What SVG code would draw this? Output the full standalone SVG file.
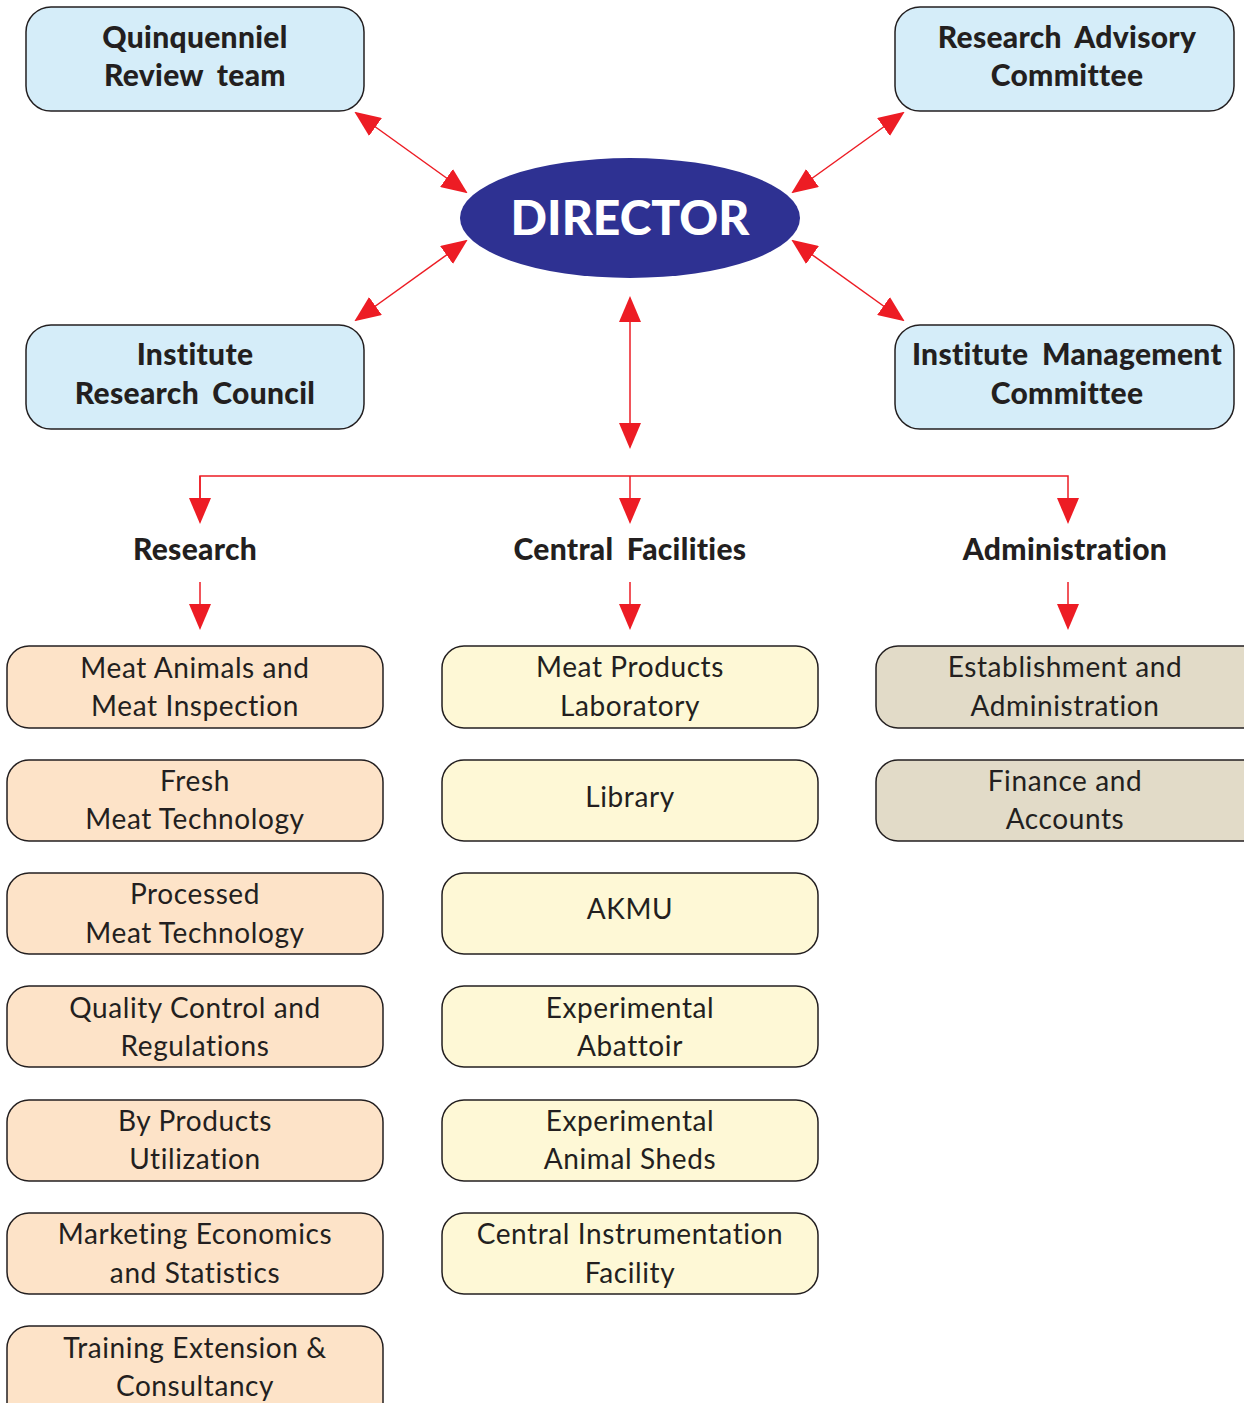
<svg xmlns="http://www.w3.org/2000/svg" width="1244" height="1403" viewBox="0 0 1244 1403">
<defs>
<style>
.top{fill:#d5edf9;stroke:#231f20;stroke-width:1.5}
.res{fill:#fde3c8;stroke:#231f20;stroke-width:1.5}
.cen{fill:#fef8d6;stroke:#231f20;stroke-width:1.5}
.adm{fill:#e2dbc8;stroke:#231f20;stroke-width:1.5}
.b{font-family:Lato,"Open Sans","Liberation Sans",sans-serif;font-weight:900;font-size:30px;fill:#231f20;text-anchor:middle;letter-spacing:0.3px;word-spacing:6px}
.r{font-family:Lato,"Open Sans","Liberation Sans",sans-serif;font-size:28px;fill:#231f20;text-anchor:middle;letter-spacing:0.6px}
.dir{font-family:Lato,"Open Sans","Liberation Sans",sans-serif;font-weight:900;font-size:48px;fill:#ffffff;text-anchor:middle}
.c{stroke:#ed1c24;stroke-width:1.5;fill:none}
</style>
<marker id="ah" markerUnits="userSpaceOnUse" markerWidth="26" markerHeight="22" viewBox="0 0 26 22" refX="24" refY="11" orient="auto-start-reverse">
<path d="M0,0 L26,11 L0,22 Z" fill="#ed1c24"/>
</marker>
</defs>
<rect width="1244" height="1403" fill="#ffffff"/>

<g id="connectors">
<line class="c" x1="356" y1="113" x2="466" y2="192" marker-start="url(#ah)" marker-end="url(#ah)"/>
<line class="c" x1="903" y1="113" x2="793" y2="192" marker-start="url(#ah)" marker-end="url(#ah)"/>
<line class="c" x1="356" y1="320" x2="466" y2="241" marker-start="url(#ah)" marker-end="url(#ah)"/>
<line class="c" x1="903" y1="320" x2="793" y2="241" marker-start="url(#ah)" marker-end="url(#ah)"/>
<line class="c" x1="630" y1="298" x2="630" y2="447" marker-start="url(#ah)" marker-end="url(#ah)"/>
<polyline class="c" points="200,522 200,476 1068,476 1068,522" marker-end="url(#ah)"/>
<line class="c" x1="200" y1="476" x2="200" y2="522" marker-end="url(#ah)"/>
<line class="c" x1="630" y1="476" x2="630" y2="522" marker-end="url(#ah)"/>
<line class="c" x1="200" y1="582" x2="200" y2="628" marker-end="url(#ah)"/>
<line class="c" x1="630" y1="582" x2="630" y2="628" marker-end="url(#ah)"/>
<line class="c" x1="1068" y1="582" x2="1068" y2="628" marker-end="url(#ah)"/>
</g>

<g id="director">
<ellipse cx="630" cy="218" rx="170" ry="60" fill="#2e3192"/>
<text class="dir" x="630" y="235">DIRECTOR</text>
</g>

<g id="quinquenniel">
<rect class="top" x="26" y="7" width="338" height="104" rx="25"/>
<text class="b" x="195" y="48">Quinquenniel</text>
<text class="b" x="195" y="86">Review team</text>
</g>
<g id="rac">
<rect class="top" x="895" y="7" width="339" height="104" rx="25"/>
<text class="b" x="1067" y="48">Research Advisory</text>
<text class="b" x="1067" y="86">Committee</text>
</g>
<g id="irc">
<rect class="top" x="26" y="325" width="338" height="104" rx="25"/>
<text class="b" x="195" y="365">Institute</text>
<text class="b" x="195" y="404">Research Council</text>
</g>
<g id="imc">
<rect class="top" x="895" y="325" width="339" height="104" rx="25"/>
<text class="b" x="1067" y="365">Institute Management</text>
<text class="b" x="1067" y="404">Committee</text>
</g>

<g id="lbl-research"><text class="b" x="195" y="560">Research</text></g>
<g id="lbl-central"><text class="b" x="630" y="560">Central Facilities</text></g>
<g id="lbl-admin"><text class="b" x="1065" y="560">Administration</text></g>

<g id="r1"><rect class="res" x="7" y="646" width="376" height="82" rx="22"/>
<text class="r" x="195" y="678">Meat Animals and</text><text class="r" x="195" y="716">Meat Inspection</text></g>
<g id="r2"><rect class="res" x="7" y="760" width="376" height="81" rx="22"/>
<text class="r" x="195" y="791">Fresh</text><text class="r" x="195" y="829">Meat Technology</text></g>
<g id="r3"><rect class="res" x="7" y="873" width="376" height="81" rx="22"/>
<text class="r" x="195" y="904">Processed</text><text class="r" x="195" y="943">Meat Technology</text></g>
<g id="r4"><rect class="res" x="7" y="986" width="376" height="81" rx="22"/>
<text class="r" x="195" y="1018">Quality Control and</text><text class="r" x="195" y="1056">Regulations</text></g>
<g id="r5"><rect class="res" x="7" y="1100" width="376" height="81" rx="22"/>
<text class="r" x="195" y="1131">By Products</text><text class="r" x="195" y="1169">Utilization</text></g>
<g id="r6"><rect class="res" x="7" y="1213" width="376" height="81" rx="22"/>
<text class="r" x="195" y="1244">Marketing Economics</text><text class="r" x="195" y="1283">and Statistics</text></g>
<g id="r7"><rect class="res" x="7" y="1326" width="376" height="100" rx="22"/>
<text class="r" x="195" y="1358">Training Extension &amp;</text><text class="r" x="195" y="1396">Consultancy</text></g>

<g id="c1"><rect class="cen" x="442" y="646" width="376" height="82" rx="22"/>
<text class="r" x="630" y="677">Meat Products</text><text class="r" x="630" y="716">Laboratory</text></g>
<g id="c2"><rect class="cen" x="442" y="760" width="376" height="81" rx="22"/>
<text class="r" x="630" y="807">Library</text></g>
<g id="c3"><rect class="cen" x="442" y="873" width="376" height="81" rx="22"/>
<text class="r" x="630" y="919">AKMU</text></g>
<g id="c4"><rect class="cen" x="442" y="986" width="376" height="81" rx="22"/>
<text class="r" x="630" y="1018">Experimental</text><text class="r" x="630" y="1056">Abattoir</text></g>
<g id="c5"><rect class="cen" x="442" y="1100" width="376" height="81" rx="22"/>
<text class="r" x="630" y="1131">Experimental</text><text class="r" x="630" y="1169">Animal Sheds</text></g>
<g id="c6"><rect class="cen" x="442" y="1213" width="376" height="81" rx="22"/>
<text class="r" x="630" y="1244">Central Instrumentation</text><text class="r" x="630" y="1283">Facility</text></g>

<g id="a1"><rect class="adm" x="876" y="646" width="390" height="82" rx="22"/>
<text class="r" x="1065" y="677">Establishment and</text><text class="r" x="1065" y="716">Administration</text></g>
<g id="a2"><rect class="adm" x="876" y="760" width="390" height="81" rx="22"/>
<text class="r" x="1065" y="791">Finance and</text><text class="r" x="1065" y="829">Accounts</text></g>
</svg>
